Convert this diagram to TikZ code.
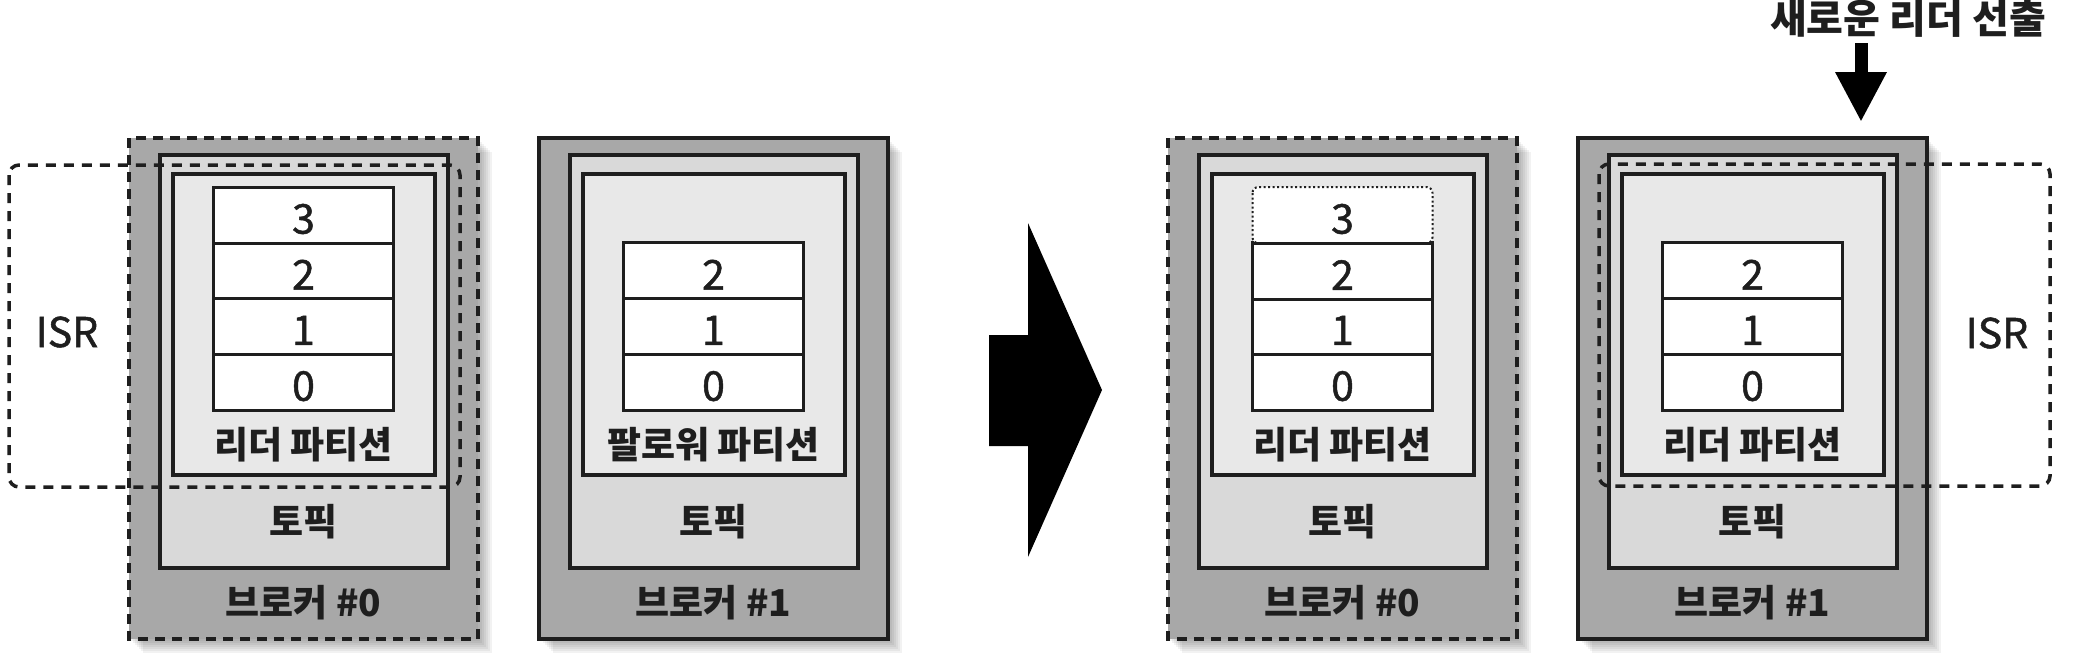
\documentclass[tikz,border=0pt]{standalone}
\usepackage{fontspec}
\setmainfont{Noto Sans CJK KR}
\newfontfamily\krmed{Noto Sans CJK KR}[FakeBold=1.2]
\usetikzlibrary{arrows.meta}
\definecolor{brokergray}{HTML}{A8A8A8}
\definecolor{topicgray}{HTML}{D9D9D9}
\definecolor{partgray}{HTML}{E8E8E8}
\definecolor{inkc}{HTML}{1E1E1E}
\tikzset{
 topicbox/.style={draw=inkc, fill=topicgray, line width=3.5pt},
 partbox/.style={draw=inkc, fill=partgray, line width=3.5pt},
 segbox/.style={draw=inkc, fill=white, line width=3pt},
 brokerline/.style={draw=inkc, line width=4.5pt},
 brokerdash/.style={draw=inkc, line width=4.5pt, dash pattern=on 10pt off 7pt},
 isrline/.style={draw=inkc, line width=3.5pt, dash pattern=on 10pt off 8pt, rounded corners=10pt},
 dottedseg/.style={draw=inkc, fill=white, line width=2pt, dash pattern=on 2pt off 2.5pt, rounded corners=6pt},
 digit/.style={font=\krmed\fontsize{41}{44}\selectfont, text=inkc, inner sep=0pt},
 lbl/.style={font=\fontsize{37}{40}\selectfont\bfseries, text=inkc, inner sep=0pt},
 isrtext/.style={font=\krmed\fontsize{41}{44}\selectfont, text=inkc, inner sep=0pt},
}
\newcommand\brokerbox[5]{%
 \pgfmathsetmacro\bL{#2}%
 \pgfmathsetmacro\bR{#2+349}%
 \pgfmathsetmacro\bM{#2+174.5}%
 \foreach \k in {2,4,...,14}{\fill[black,opacity=0.05] (\bL+\k,138+\k) rectangle (\bR+\k,639+\k);}
 \fill[brokergray] (\bL,138) rectangle (\bR,639);
 \path[topicbox] (\bL+31,155) rectangle (\bR-30,568);
 \path[partbox] (\bL+44,174) rectangle (\bR-43,475);
 \foreach \i in {0,1,2}{%
   \path[segbox] (\bM-90,{410-(\i+1)*55.75}) rectangle (\bM+90,{410-\i*55.75});
   \node[digit] (#1seg\i) at (\bM,{410-(\i+0.5)*55.75+4}) {\i};}
 \node[lbl] (#1part) at (\bM,445) {#4};
 \node[lbl] (#1topic) at (\bM,522) {토픽};
 \node[lbl] (#1name) at (\bM,603) {#3};
 \path[#5] (\bL,138) rectangle (\bR,639);
}
\begin{document}
\begin{tikzpicture}[x=1pt,y=-1pt]
\useasboundingbox (0,0) rectangle (2073,664);
% left state
\brokerbox{a}{129}{브로커 \#0}{리더 파티션}{brokerdash}
\path[segbox] (213.5,187) rectangle (393.5,243.25);
\node[digit] (aseg3) at (303.5,219) {3};
\brokerbox{b}{539}{브로커 \#1}{팔로워 파티션}{brokerline}
% big arrow
\fill[black] (989,335) -- (1028,335) -- (1028,223) -- (1102,390) -- (1028,557) -- (1028,446) -- (989,446) -- cycle;
% right state
\brokerbox{c}{1168}{브로커 \#0}{리더 파티션}{brokerdash}
\path[dottedseg] (1252.5,187) rectangle (1432.5,243.25);
\node[digit] (cseg3) at (1342.5,219) {3};
\path[segbox] (1252.5,243.25) rectangle (1432.5,299);
\node[digit] at (1342.5,275) {2};
\brokerbox{d}{1578}{브로커 \#1}{리더 파티션}{brokerline}
% ISR groups
\path[isrline] (9,165) rectangle (460,487);
\node[isrtext] (isrl) at (67,332) {ISR};
\path[isrline] (1599,164) rectangle (2050,486);
\node[isrtext] (isrr) at (1997,333) {ISR};
% new leader election
\node[lbl, font=\fontsize{40}{44}\selectfont\bfseries] (newleader) at (1908,19) {새로운 리더 선출};
\coordinate (arrtop) at (1861,43);
\coordinate (arrtip) at (1861,122);
\draw[black, line width=13pt, -{Triangle[width=48pt,length=50pt]}] (arrtop) -- (arrtip);
\end{tikzpicture}
\end{document}
